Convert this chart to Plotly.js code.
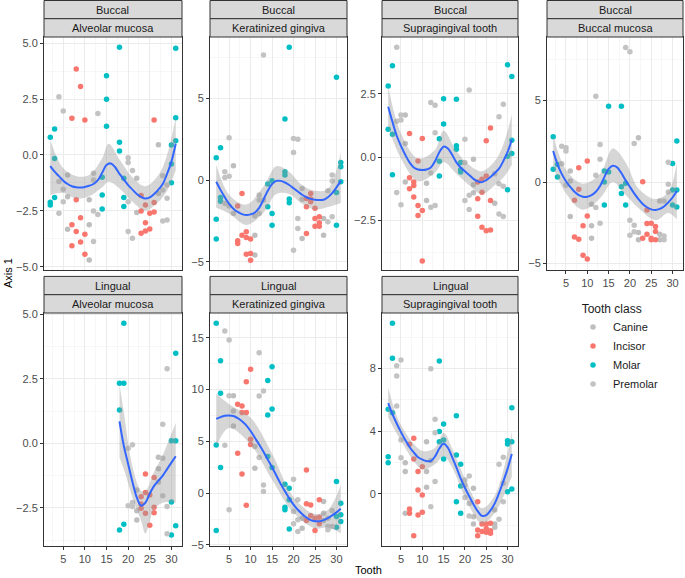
<!DOCTYPE html>
<html><head><meta charset="utf-8">
<script src="https://cdn.plot.ly/plotly-3.0.1.min.js"></script>
<style>html,body{margin:0;padding:0;background:#fff}#chart{width:685px;height:578px}</style>
</head><body><div id="chart"></div>
<script>
// ---------- categories & labels ----------
const classes = ["Canine", "Incisor", "Molar", "Premolar"];
const classColors = ["#BEBEBE", "#F8766D", "#00BFC4", "#C3C3C3"];
const surfaces = ["Buccal", "Buccal", "Buccal", "Buccal", "Lingual", "Lingual", "Lingual"];
const sites = ["Alveolar mucosa", "Keratinized gingiva", "Supragingival tooth", "Buccal mucosa",
               "Alveolar mucosa", "Keratinized gingiva", "Supragingival tooth"];
const xTitle = "Tooth";
const yTitle = "Axis 1";
const legendTitle = "Tooth class";

// ---------- points: [tooth, Axis 1] ----------
// Buccal / Alveolar mucosa
const p1Canine = [[6,-0.90],[6,-1.87],[11,-2.01],[6,-3.33],[11,-3.13],[11,-4.70],[22,-1.04],[22,-2.58],[27,0.46],[27,-1.72]];
const p1Incisor = [[8,3.85],[9,3.06],[7,1.64],[10,1.57],[8,-2.01],[9,-2.81],[7,-3.13],[8,-3.43],[10,-3.55],[9,-3.90],[7,-4.06],[10,-4.45],[26,1.57],[23,-1.82],[24,-2.24],[26,-2.13],[25,-2.61],[23,-2.51],[26,-2.55],[24,-3.04],[24,-3.40],[25,-3.31],[23,-3.51]];
const p1Molar = [[2,0.79],[3,1.16],[3,-0.16],[2,-2.12],[2,-2.24],[3,-1.9],[18,4.82],[15,3.54],[15,2.49],[15,1.28],[18,0.57],[18,0.18],[19,-1.04],[14,-1.0],[14,-1.79],[14,-2.42],[19,-1.9],[19,-2.31],[31,4.78],[31,1.66],[31,0.64],[30,0.45],[30,-0.40],[30,-1.24]];
const p1Premolar = [[4,2.61],[5,1.97],[13,1.85],[4,-1.19],[5,-1.54],[4,-2.61],[5,-2.09],[12,-0.82],[12,-1.12],[12,-2.51],[13,-2.67],[12,-3.87],[20,-0.12],[20,-0.34],[21,-0.70],[20,-2.09],[20,-3.43],[21,-3.73],[28,-0.93],[29,-1.34],[28,-1.57],[29,-1.94],[28,-2.96],[29,-2.91]];
// Buccal / Keratinized gingiva
const p2Canine = [[6,0.88],[6,-2.04],[11,-2.2],[11,-3.37],[11,-4.59],[22,-0.51],[22,-1.18],[22,-3.57],[27,-2.35],[27,-3.37]];
const p2Incisor = [[8,-0.82],[7,-1.59],[7,-3.71],[7,-3.88],[8,-3.37],[9,-3.16],[9,-3.51],[10,-3.61],[9,-4.53],[10,-4.49],[10,-4.90],[24,-0.82],[23,-1.12],[24,-1.16],[23,-1.63],[25,-1.73],[25,-2.35],[26,-2.24],[25,-2.82],[26,-2.61],[26,-2.82],[23,-3.27],[24,-1.33]];
const p2Molar = [[2,1.37],[3,1.98],[2,-2.39],[2,-3.61],[3,-1.06],[3,-1.29],[14,-0.24],[15,-0.04],[14,-1.63],[15,-2.04],[15,-2.76],[19,8.12],[18,3.73],[18,0.51],[18,0.31],[19,-1.16],[19,-1.39],[30,6.29],[31,1.08],[31,0.82],[31,-0.10],[30,-0.76],[30,-2.76]];
const p2Premolar = [[5,2.59],[4,0.51],[5,0.24],[4,0.16],[4,-1.43],[5,-1.59],[13,7.65],[12,-0.92],[12,-1.22],[12,-2.04],[13,-1.22],[20,2.55],[21,2.49],[20,1.69],[21,-2.35],[21,-2.96],[20,-4.29],[29,0.31],[29,-0.06],[28,-0.65],[28,-2.55],[29,-2.24]];
// Buccal / Supragingival tooth
const p3Canine = [[6,1.67],[6,0.54],[6,-0.98],[11,-1.02],[11,-1.71],[22,-0.08],[22,-1.08],[22,-1.4],[27,-0.65],[27,-1.81]];
const p3Incisor = [[7,0.94],[10,0.74],[9,-0.15],[7,-0.81],[8,-0.98],[8,-1.11],[7,-1.24],[8,-1.57],[9,-1.9],[10,-2.1],[9,-2.3],[10,-4.09],[26,1.16],[25,0.65],[25,-0.74],[24,-0.87],[23,-0.98],[24,-1.38],[23,-1.64],[26,-1.71],[23,-2.33],[24,-2.76],[25,-2.9],[26,-2.87]];
const p3Molar = [[2,2.82],[3,3.61],[2,1.11],[3,0.91],[3,-0.69],[15,2.31],[15,1.31],[14,0.73],[14,-0.16],[14,-0.74],[18,2.29],[18,0.46],[18,0.32],[19,-0.21],[19,-0.49],[19,-0.58],[30,3.65],[31,3.19],[31,0.67],[30,0.04],[31,0.15],[30,-1.28]];
const p3Premolar = [[4,4.35],[4,1.42],[5,1.67],[5,1.47],[4,-1.39],[5,-1.87],[12,2.16],[13,2.06],[13,0.97],[12,-0.62],[12,-1.97],[13,-1.9],[21,2.66],[20,0.71],[20,-0.21],[21,-1.5],[20,-1.71],[21,-2.06],[29,2.09],[28,1.6],[29,-1.14],[28,-2.24],[29,-2.34],[28,-1.04]];
// Buccal / Buccal mucosa
const p4Canine = [[6,0.67],[6,0.06],[6,-2.12],[11,-1.37],[11,-2.69],[11,-3.45],[22,2.71],[22,-3.1],[22,-3.55],[27,-1.16],[27,-3.2],[27,-3.55]];
const p4Incisor = [[10,1.29],[8,0.88],[8,-0.45],[7,-1.12],[9,-2.69],[10,-2.08],[7,-3.37],[8,-3.51],[9,-4.49],[10,-4.73],[23,0.02],[24,-1.71],[24,-2.55],[25,-2.53],[26,-2.73],[26,-3.04],[23,-3.45],[24,-3.2],[25,-3.45],[26,-3.55],[25,-3.55]];
const p4Molar = [[2,2.78],[2,0.78],[3,1.08],[3,0.31],[15,4.65],[18,4.65],[14,0.67],[15,0.61],[14,0.0],[14,-1.41],[19,-0.08],[18,-0.29],[18,-0.71],[19,-1.41],[31,2.51],[30,1.14],[30,-0.49],[31,-0.49],[30,-1.41],[31,-1.53]];
const p4Premolar = [[4,2.2],[5,2.1],[5,1.9],[4,1.12],[5,-0.2],[12,5.27],[13,2.31],[13,1.39],[12,0.41],[12,-1.57],[13,-2.53],[19,8.25],[20,8.0],[21,2.37],[20,-2.35],[21,-2.65],[20,-3.27],[21,-3.06],[29,1.22],[29,-0.14],[29,-0.61],[28,-1.16],[28,-3.31],[28,-3.55]];
// Lingual / Alveolar mucosa
const p5Canine = [[22,-1.81],[22,-2.61],[22,-2.97],[27,-0.54],[27,-0.99],[27,-1.5]];
const p5Incisor = [[24,-1.19],[26,-1.33],[24,-1.91],[25,-2.0],[23,-2.07],[23,-2.35],[23,-2.52],[26,-2.48],[24,-2.71],[26,-2.69],[25,-3.18]];
const p5Molar = [[19,4.65],[18,2.33],[19,2.33],[18,1.29],[18,-3.36],[19,-3.14],[30,0.10],[31,0.10],[31,3.49],[30,-2.27],[31,-3.2],[30,-3.55]];
const p5Premolar = [[20,-0.19],[21,-0.06],[20,-2.42],[21,-2.29],[21,-2.45],[28,-0.58],[28,0.74],[29,2.89],[28,-2.03],[29,-2.45],[29,-3.51]];
// Lingual / Keratinized gingiva
const p6Canine = [[6,9.42],[6,7.94],[6,6.5],[11,4.5],[11,2.41],[22,-2.41],[22,-3.38],[27,-0.8],[27,-1.93],[27,-2.64]];
const p6Incisor = [[10,11.96],[9,10.77],[7,8.59],[8,8.42],[8,7.78],[9,7.78],[10,5.21],[10,4.69],[7,3.86],[8,1.86],[9,-1.16],[23,2.25],[23,-1.03],[24,-1.13],[26,-0.64],[24,-2.19],[25,-2.41],[26,-2.32],[23,-2.64],[25,-3.6],[26,-2.96]];
const p6Molar = [[2,16.4],[3,12.8],[3,9.65],[2,4.66],[3,2.48],[2,-3.6],[15,12.2],[14,10.87],[15,8.13],[14,7.56],[14,3.54],[15,2.48],[18,0.87],[19,0.48],[19,-0.64],[18,-1.35],[18,-1.61],[19,-3.47],[30,1.13],[31,-0.96],[31,-2.09],[30,-2.25],[31,-2.73],[30,-3.28]];
const p6Premolar = [[4,15.66],[5,14.79],[5,9.42],[4,4.63],[5,-1.61],[12,13.57],[13,9.87],[12,9.39],[12,3.44],[13,0.8],[13,0.16],[20,1.35],[20,-1.77],[21,-0.64],[21,-2.57],[20,-2.96],[21,-3.7],[28,-2.41],[29,-1.67],[29,-3.22],[28,-3.22],[28,-3.54]];
// Lingual / Supragingival tooth
const p7Canine = [[6,2.0],[6,1.43],[6,-1.23],[11,3.34],[11,1.43],[11,0.43],[22,0.36],[22,-1.45],[22,-1.91],[27,-1.02],[27,-1.91],[27,-2.13]];
const p7Incisor = [[8,3.55],[7,3.17],[8,2.23],[9,1.43],[10,1.74],[9,0.26],[10,-0.06],[7,-0.96],[7,-1.23],[10,-1.17],[9,-1.34],[8,-2.66],[23,-0.49],[23,-2.3],[23,-2.66],[24,-1.91],[25,-1.91],[26,-1.87],[24,-2.4],[25,-2.45],[26,-2.34],[25,-2.2],[26,-2.5]];
const p7Molar = [[3,10.89],[3,8.66],[2,5.4],[3,5.19],[2,2.38],[2,2.0],[14,8.49],[14,3.98],[14,3.34],[15,3.45],[15,4.47],[15,2.23],[18,5.0],[18,2.49],[19,1.89],[19,0.51],[18,-0.49],[19,-1.23],[31,5.51],[30,3.4],[30,3.19],[31,3.34],[30,0.15],[31,0.32]];
const p7Premolar = [[5,8.55],[4,8.19],[4,7.53],[4,5.62],[5,3.45],[5,2.32],[12,8.0],[13,4.77],[13,3.91],[12,2.13],[13,0.79],[12,-0.81],[20,0.89],[20,0.57],[21,1.15],[21,-0.6],[21,-1.4],[20,-0.23],[28,1.89],[28,-1.62],[29,2.34],[29,0.68],[29,-0.49]];

// ---------- smooth fits (read at each tooth) ----------
const fitTeeth = [2,3,4,5,6,7,8,9,10,11,12,13,14,15,16,17,18,19,20,21,22,23,24,25,26,27,28,29,30,31];
const fitTeethP5 = [18,19,20,21,22,23,24,25,26,27,28,29,30,31];
const p1Fit = [-0.5,-0.75,-0.95,-1.15,-1.3,-1.4,-1.45,-1.46,-1.43,-1.38,-1.3,-1.13,-0.8,-0.45,-0.38,-0.55,-0.85,-1.1,-1.35,-1.55,-1.75,-1.88,-1.95,-1.9,-1.75,-1.55,-1.3,-0.85,-0.3,0.5];
const p2Fit = [-0.1,-0.6,-1.05,-1.45,-1.75,-1.95,-2.08,-2.14,-2.1,-1.98,-1.7,-1.2,-0.65,-0.25,-0.05,-0.05,-0.15,-0.3,-0.5,-0.7,-0.9,-1.05,-1.15,-1.2,-1.22,-1.2,-1.05,-0.8,-0.45,-0.05];
const p3Fit = [2.0,1.4,0.85,0.45,0.1,-0.2,-0.4,-0.48,-0.5,-0.48,-0.4,-0.15,0.2,0.42,0.35,0.1,-0.2,-0.4,-0.55,-0.7,-0.85,-0.95,-0.98,-0.9,-0.78,-0.62,-0.45,-0.15,0.2,0.7];
const p4Fit = [1.9,1.1,0.5,0.05,-0.3,-0.6,-0.8,-0.9,-0.9,-0.8,-0.6,-0.25,0.3,0.8,1.0,0.9,0.55,0.1,-0.3,-0.7,-1.05,-1.35,-1.55,-1.68,-1.72,-1.65,-1.5,-1.25,-0.95,-0.55];
const p5Fit = [0.85,-0.1,-0.8,-1.5,-2.1,-2.42,-2.3,-1.95,-1.65,-1.45,-1.25,-1.0,-0.75,-0.5];
const p6Fit = [7.17,7.35,7.47,7.5,7.45,7.25,6.95,6.55,6.0,5.35,4.7,4.0,3.25,2.5,1.7,0.9,0.2,-0.5,-1.1,-1.6,-2.0,-2.35,-2.6,-2.7,-2.7,-2.6,-2.4,-2.15,-1.85,-1.5];
const p7Fit = [5.8,5.1,4.5,3.95,3.45,3.0,2.65,2.35,2.2,2.1,2.1,2.4,2.9,3.2,2.95,2.35,1.7,1.0,0.4,-0.15,-0.65,-1.1,-1.4,-1.35,-1.05,-0.6,0.05,0.8,1.6,2.55];

// ---------- confidence bands (read at selected teeth) ----------
const p1BandX = [2,5,8,11,14,15.5,18,21,24,27,29,31];
const p1BandHi = [0.67,-0.6,-0.95,-0.9,-0.15,0.5,-0.2,-1.0,-1.4,-0.9,0.0,1.7];
const p1BandLo = [-1.79,-1.7,-1.95,-1.85,-1.45,-1.2,-1.5,-2.1,-2.5,-2.1,-1.6,-0.7];
const p2BandX = [2,5,9,13,16,19,22,25,28,31];
const p2BandHi = [0.95,-0.9,-1.5,-0.4,0.85,0.5,-0.3,-0.65,-0.55,1.7];
const p2BandLo = [-1.7,-2.05,-2.75,-2.0,-0.85,-0.85,-1.45,-1.8,-1.65,-1.4];
const p3BandX = [2,5,9,13,15,18,21,24,27,29,31];
const p3BandHi = [2.8,0.95,-0.05,0.3,1.05,0.25,-0.3,-0.55,-0.15,0.5,1.7];
const p3BandLo = [1.2,-0.05,-0.95,-0.6,-0.2,-0.65,-1.1,-1.45,-1.1,-0.8,-0.3];
const p4BandX = [2,5,9,13,16,19,22,26,29,31];
const p4BandHi = [2.85,0.75,-0.1,0.5,2.05,1.2,-0.4,-1.05,-0.6,1.2];
const p4BandLo = [0.9,-0.7,-1.7,-1.0,0.0,-0.8,-1.6,-2.35,-1.9,-2.3];
const p5BandX = [18,19,21,23,24,26,28,31];
const p5BandHi = [2.3,1.2,-0.9,-1.85,-1.85,-1.1,-0.45,0.8];
const p5BandLo = [-0.55,-1.0,-2.1,-3.0,-3.5,-2.55,-2.3,-2.3];
const p6BandX = [2,5,10,15,20,25,28,31];
const p6BandHi = [9.6,8.6,7.3,3.8,-0.4,-2.0,-1.6,0.8];
const p6BandLo = [4.5,6.3,4.7,1.3,-1.9,-3.4,-3.3,-3.9];
const p7BandX = [2,5,10,13,15,17,20,24,27,31];
const p7BandHi = [6.8,4.4,2.75,2.95,3.9,2.9,1.0,-0.9,-0.1,4.0];
const p7BandLo = [4.9,3.4,1.6,1.9,2.4,1.7,-0.2,-1.9,-1.2,1.1];

// ---------- assemble ----------
const panelPoints = [
  [p1Canine,p1Incisor,p1Molar,p1Premolar],[p2Canine,p2Incisor,p2Molar,p2Premolar],
  [p3Canine,p3Incisor,p3Molar,p3Premolar],[p4Canine,p4Incisor,p4Molar,p4Premolar],
  [p5Canine,p5Incisor,p5Molar,p5Premolar],[p6Canine,p6Incisor,p6Molar,p6Premolar],
  [p7Canine,p7Incisor,p7Molar,p7Premolar]];
const panelFits = [[fitTeeth,p1Fit],[fitTeeth,p2Fit],[fitTeeth,p3Fit],[fitTeeth,p4Fit],[fitTeethP5,p5Fit],[fitTeeth,p6Fit],[fitTeeth,p7Fit]];
const panelBands = [[p1BandX,p1BandLo,p1BandHi],[p2BandX,p2BandLo,p2BandHi],[p3BandX,p3BandLo,p3BandHi],
  [p4BandX,p4BandLo,p4BandHi],[p5BandX,p5BandLo,p5BandHi],[p6BandX,p6BandLo,p6BandHi],[p7BandX,p7BandLo,p7BandHi]];

const W = 685, H = 578;
const FONT = "Liberation Sans, Arial, Helvetica, sans-serif";
const boxes = [[44,182,37,270],[210,347,37,270],[382,518,37,270],[547,683,37,270],
               [44,182,313,546],[210,347,313,546],[382,518,313,546]];
const yRanges = [[-5.15,5.28],[-5.5,8.75],[-4.45,4.75],[-5.4,8.9],[-3.98,5.05],[-5.1,17.4],[-3.32,11.55]];
const yDticks = [2.5,5,2.5,5,2.5,5,4];
const yFormats = [".1f","",".1f","",".1f","",""];
const showX = [false,false,false,true,true,true,true];

const traces = [];
const layout = {
  width: W, height: H, margin: {l:0,r:0,t:0,b:0},
  paper_bgcolor: "#fff", plot_bgcolor: "#fff",
  font: {family: FONT, size: 11, color: "#1A1A1A"},
  showlegend: true,
  legend: {x: 573/W, y: 1 - 297/H, xanchor: "left", yanchor: "top",
           title: {text: "\u00A0\u00A0" + legendTitle, font: {size: 12, color: "#1A1A1A"}},
           font: {size: 11, color: "#1A1A1A"}, bgcolor: "rgba(0,0,0,0)",
           tracegroupgap: 0, itemsizing: "trace"},
  shapes: [], annotations: []
};

boxes.forEach((b, i) => {
  const n = i + 1;
  const xa = "x" + (n === 1 ? "" : n), ya = "y" + (n === 1 ? "" : n);
  const xk = "xaxis" + (n === 1 ? "" : n), yk = "yaxis" + (n === 1 ? "" : n);
  const [l, r, t, bt] = b;
  layout[xk] = {
    domain: [l/W, r/W], range: [0.55, 32.45], anchor: ya,
    showline: true, mirror: true, linecolor: "#333333", linewidth: 1,
    showgrid: true, gridcolor: "#EBEBEB", gridwidth: 1, zeroline: false,
    tick0: 0, dtick: 5, ticks: showX[i] ? "outside" : "", ticklen: 3, tickcolor: "#333333",
    showticklabels: showX[i], tickfont: {family: FONT, size: 11, color: "#4D4D4D"},
    minor: {tick0: 0, dtick: 2.5, showgrid: true, gridcolor: "#F2F2F2", gridwidth: 0.6},
    fixedrange: true
  };
  layout[yk] = {
    domain: [1 - bt/H, 1 - t/H], range: yRanges[i], anchor: xa,
    showline: true, mirror: true, linecolor: "#333333", linewidth: 1,
    showgrid: true, gridcolor: "#EBEBEB", gridwidth: 1, zeroline: false,
    tick0: 0, dtick: yDticks[i], tickformat: yFormats[i],
    ticks: "outside", ticklen: 3, tickcolor: "#333333",
    tickfont: {family: FONT, size: 11, color: "#4D4D4D"},
    minor: {tick0: 0, dtick: yDticks[i]/2, showgrid: true, gridcolor: "#F2F2F2", gridwidth: 0.6},
    fixedrange: true
  };
  // strips
  const stripH = 18.3;
  [[t - 2*stripH, t - stripH, surfaces[i]], [t - stripH, t, sites[i]]].forEach(s => {
    layout.shapes.push({type: "rect", xref: "paper", yref: "paper",
      x0: l/W, x1: r/W, y0: 1 - s[1]/H, y1: 1 - Math.max(s[0], 0.5)/H,
      fillcolor: "#D9D9D9", line: {color: "#333333", width: 1}});
    layout.annotations.push({xref: "paper", yref: "paper", x: (l + r)/2/W, y: 1 - (s[0] + s[1])/2/H,
      text: s[2], showarrow: false, xanchor: "center", yanchor: "middle",
      font: {family: FONT, size: 11, color: "#1A1A1A"}});
  });
  // points
  panelPoints[i].forEach((pts, c) => {
    traces.push({type: "scatter", mode: "markers", xaxis: xa, yaxis: ya,
      x: pts.map(p => p[0]), y: pts.map(p => p[1]),
      name: classes[c], legendgroup: classes[c], showlegend: i === 0,
      marker: {color: classColors[c], size: 5.5, line: {width: 0}},
      hoverinfo: "skip"});
  });
  // band
  const [bx, blo, bhi] = panelBands[i];
  traces.push({type: "scatter", mode: "lines", xaxis: xa, yaxis: ya, x: bx, y: blo,
    line: {width: 0, shape: "spline", smoothing: 1}, showlegend: false, hoverinfo: "skip"});
  traces.push({type: "scatter", mode: "lines", xaxis: xa, yaxis: ya, x: bx, y: bhi,
    line: {width: 0, shape: "spline", smoothing: 1}, fill: "tonexty",
    fillcolor: "rgba(153,153,153,0.4)", showlegend: false, hoverinfo: "skip"});
  // fit line
  const [fx, fy] = panelFits[i];
  traces.push({type: "scatter", mode: "lines", xaxis: xa, yaxis: ya, x: fx, y: fy,
    line: {color: "#3366FF", width: 2, shape: "spline", smoothing: 1},
    showlegend: false, hoverinfo: "skip"});
});

layout.annotations.push({xref: "paper", yref: "paper", x: 368/W, y: 1 - 570/H, text: xTitle,
  showarrow: false, xanchor: "center", yanchor: "middle", font: {family: FONT, size: 11, color: "#000"}});
layout.annotations.push({xref: "paper", yref: "paper", x: 8/W, y: 1 - 273/H, text: yTitle, textangle: -90,
  showarrow: false, xanchor: "center", yanchor: "middle", font: {family: FONT, size: 11, color: "#000"}});

Plotly.newPlot("chart", traces, layout, {staticPlot: true, displayModeBar: false});
</script>
</body></html>
